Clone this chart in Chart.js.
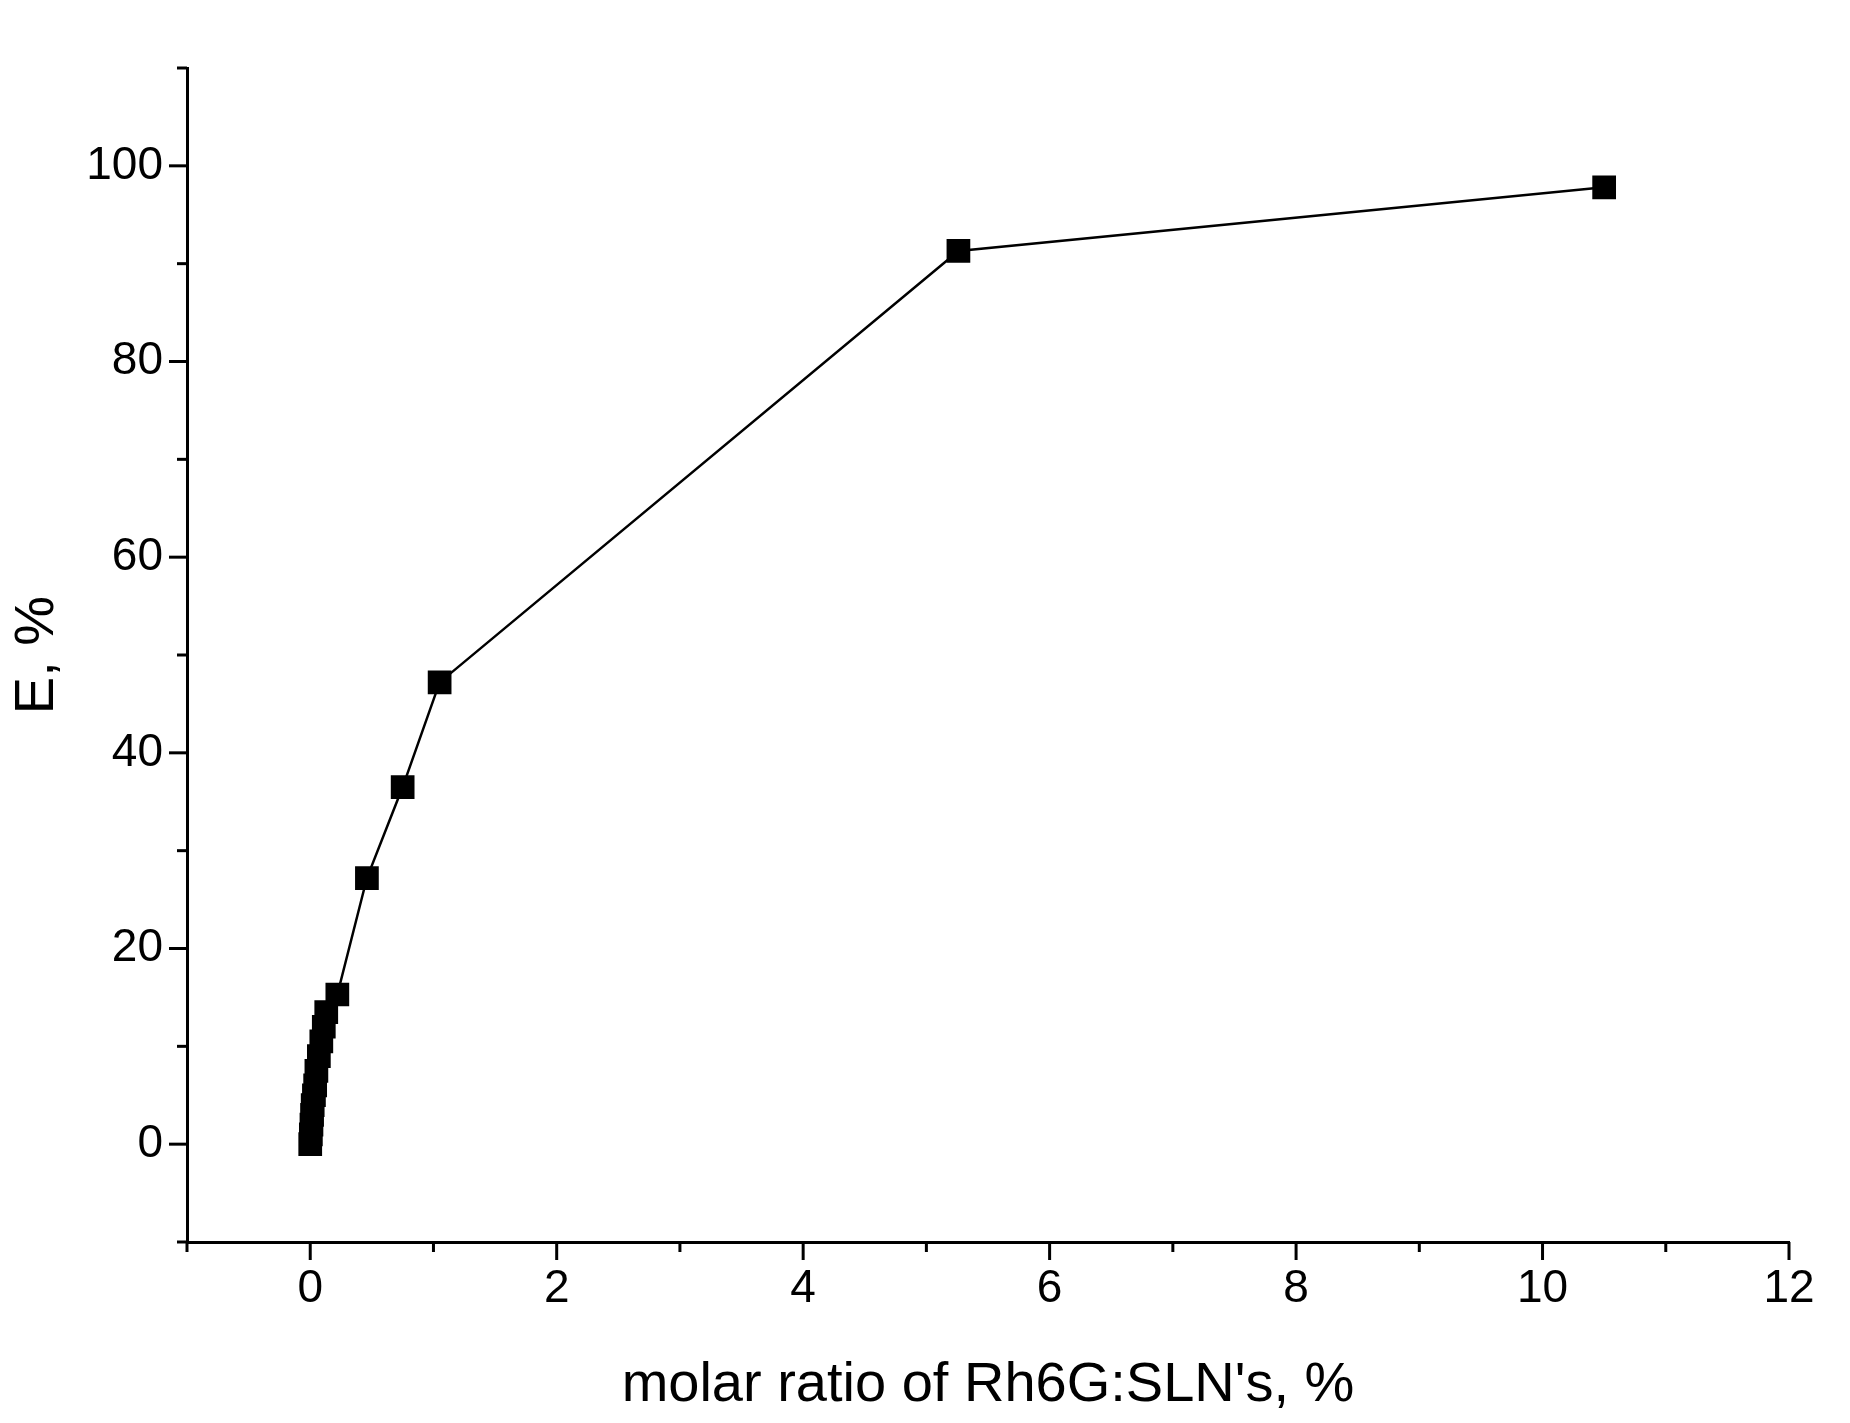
<!DOCTYPE html>
<html>
<head>
<script src="https://cdn.jsdelivr.net/npm/chart.js@4"></script>
<style>
html, body { margin: 0; padding: 0; background: #fff; }
#wrap { width: 1850px; height: 1423px; }
</style>
</head>
<body>
<div id="wrap"><canvas id="c"></canvas></div>
<script>
// molar ratio (%) and efficiency E (%)
const ratioValues = [0, 0.005, 0.01, 0.015, 0.02, 0.03, 0.04, 0.05, 0.07, 0.09, 0.11, 0.13, 0.22, 0.46, 0.75, 1.05, 5.26, 10.5];
const effValues = [0, 1, 2, 3, 4, 5, 6, 7.5, 9, 10.5, 12, 13.5, 15.3, 27.2, 36.5, 47.2, 91.3, 97.8];
const xTickLabels = [0, 2, 4, 6, 8, 10, 12];
const yTickLabels = [0, 20, 40, 60, 80, 100];

const points = ratioValues.map((x, i) => ({ x: x, y: effValues[i] }));

// draw outward major/minor ticks on both axes
const tickPlugin = {
    id: 'ticks',
    afterDraw(chart) {
        const ctx = chart.ctx;
        const xs = chart.scales.x, ys = chart.scales.y;
        ctx.save();
        ctx.strokeStyle = '#000';
        ctx.lineWidth = 3;
        for (let v = -1; v <= 12; v++) {
            const px = xs.getPixelForValue(v);
            const len = (v % 2 === 0) ? 18 : 10;
            ctx.beginPath();
            ctx.moveTo(px, ys.bottom);
            ctx.lineTo(px, ys.bottom + len);
            ctx.stroke();
        }
        for (let v = -10; v <= 110; v += 10) {
            const py = ys.getPixelForValue(v);
            const len = (v % 20 === 0) ? 18 : 10;
            ctx.beginPath();
            ctx.moveTo(xs.left, py);
            ctx.lineTo(xs.left - len, py);
            ctx.stroke();
        }
        ctx.restore();
    }
};

new Chart(document.getElementById('c'), {
    type: 'scatter',
    data: {
        datasets: [{
            data: points,
            showLine: true,
            borderColor: '#000',
            borderWidth: 2.5,
            backgroundColor: '#000',
            pointStyle: 'rect',
            pointRadius: 15,
            pointHoverRadius: 15
        }]
    },
    options: {
        responsive: true,
        maintainAspectRatio: false,
        animation: false,
        layout: { padding: { top: 68, right: 61 } },
        plugins: { legend: { display: false }, tooltip: { enabled: false } },
        scales: {
            x: {
                type: 'linear',
                min: -1, max: 12,
                afterFit(s) { s.height = 181; },
                grid: { display: false, drawTicks: false },
                border: { color: '#000', width: 3 },
                ticks: {
                    stepSize: 1,
                    padding: 20,
                    color: '#000',
                    font: { family: 'Arial, Liberation Sans', size: 46 },
                    callback: v => xTickLabels.includes(v) ? String(v) : ''
                },
                title: {
                    display: true,
                    text: "molar ratio of Rh6G:SLN's, %",
                    color: '#000',
                    font: { family: 'Arial, Liberation Sans', size: 56 },
                    padding: { top: -8 }
                }
            },
            y: {
                min: -10, max: 110,
                afterFit(s) { s.width = 187; },
                grid: { display: false, drawTicks: false },
                border: { color: '#000', width: 3 },
                ticks: {
                    stepSize: 10,
                    padding: 24,
                    color: '#000',
                    font: { family: 'Arial, Liberation Sans', size: 46 },
                    callback: v => yTickLabels.includes(v) ? String(v) : ''
                },
                title: {
                    display: true,
                    text: 'E, %',
                    color: '#000',
                    font: { family: 'Arial, Liberation Sans', size: 56 },
                    padding: { bottom: 0 }
                }
            }
        }
    },
    plugins: [tickPlugin]
});
</script>
</body>
</html>
